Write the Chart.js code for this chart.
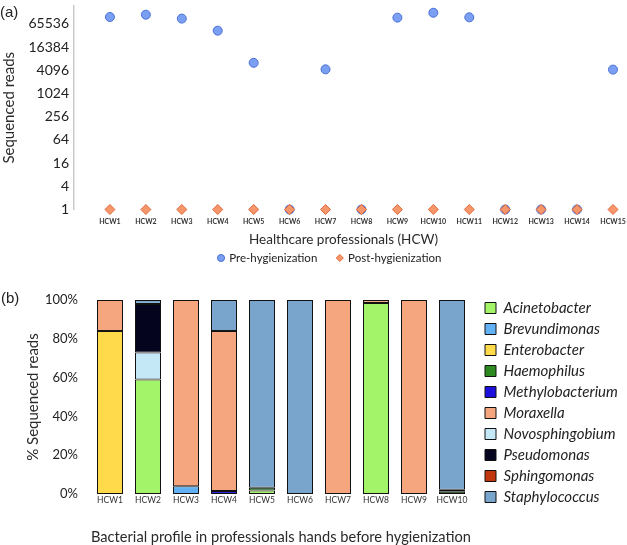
<!DOCTYPE html>
<html><head><meta charset="utf-8">
<script src="https://cdn.jsdelivr.net/npm/chart.js@4.4.1/dist/chart.umd.min.js"></script>
<style>
html,body{margin:0;padding:0;background:#fff;overflow:hidden;width:627px;height:545px;}
#wa{position:absolute;left:0;top:0;width:627px;height:270px;}
#wb{position:absolute;left:0;top:270px;width:627px;height:275px;}
.lab{position:absolute;font:15px "Liberation Sans",Arial,sans-serif;color:#222;}
</style></head><body>
<div id="wa"><canvas id="ca"></canvas></div>
<div id="wb"><canvas id="cb"></canvas></div>
<div class="lab" style="left:0;top:3px">(a)</div>
<div class="lab" style="left:1px;top:289px">(b)</div>
<script>
// ---- Panel (a) data ----
const hcwLabels = ['HCW1','HCW2','HCW3','HCW4','HCW5','HCW6','HCW7','HCW8','HCW9','HCW10','HCW11','HCW12','HCW13','HCW14','HCW15'];
const preHygienization = [98700, 113000, 89400, 43500, 6380, 1, 4320, 1, 94800, 127000, 96500, 1, 1, 1, 4250];
const postHygienization = [1, 1, 1, 1, 1, 1, 1, 1, 1, 1, 1, 1, 1, 1, 1];
const yTicksA = [1, 4, 16, 64, 256, 1024, 4096, 16384, 65536];

// ---- Panel (b) data ----
const profileLabels = ['HCW1','HCW2','HCW3','HCW4','HCW5','HCW6','HCW7','HCW8','HCW9','HCW10'];
const genera = ['Acinetobacter','Brevundimonas','Enterobacter','Haemophilus','Methylobacterium','Moraxella','Novosphingobium','Pseudomonas','Sphingomonas','Staphylococcus'];
const acinetobacter    = [0, 59, 0, 0, 1.8, 0, 0, 98.5, 0, 0];
const brevundimonas    = [0, 0, 4, 0, 0, 0, 0, 0, 0, 0];
const enterobacter     = [84, 0, 0, 0, 0, 0, 0, 0, 0, 0];
const haemophilus      = [0, 0, 0, 0, 1.4, 0, 0, 0, 0, 1.2];
const methylobacterium = [0, 0, 0, 1.5, 0, 0, 0, 0, 0, 0];
const moraxella        = [16, 0, 96, 82.5, 0, 0, 100, 1.5, 100, 0];
const novosphingobium  = [0, 14, 0, 0, 0, 0, 0, 0, 0, 0];
const pseudomonas      = [0, 25, 0, 0, 0, 0, 0, 0, 0, 0];
const sphingomonas     = [0, 0, 0, 0, 0, 0, 0, 0, 0, 1.0];
const staphylococcus   = [0, 2, 0, 16, 96.8, 100, 0, 0, 0, 97.8];
const yTicksB = [0, 20, 40, 60, 80, 100];

const seriesB = [acinetobacter, brevundimonas, enterobacter, haemophilus, methylobacterium, moraxella, novosphingobium, pseudomonas, sphingomonas, staphylococcus];
const colorsB = ['#a4f46a','#62b1f5','#ffda4a','#2d8a21','#1c10dc','#f5a67f','#c5e8f7','#05041f','#c2360d','#79a5cc'];

Chart.defaults.font.family = 'Lato, "Open Sans", sans-serif';
Chart.defaults.color = '#222';

function legendFix(o) {
  return {
    id: 'legendFix',
    afterInit(chart) {
      const lg = chart.legend;
      const f = lg.fit;
      lg.fit = function () {
        f.call(this);
        if (o.width != null) this.width = o.width;
        if (o.height != null) this.height = o.height;
      };
    },
    afterLayout(chart) {
      const lg = chart.legend;
      lg.left += o.dx || 0; lg.right += o.dx || 0;
      lg.top += o.dTop || 0; lg.bottom += o.dBottom || 0;
    }
  };
}
function noScalePad(s) { s.paddingTop = 0; s.paddingBottom = 0; s.paddingLeft = 0; s.paddingRight = 0; }

new Chart(document.getElementById('ca'), {
  type: 'scatter',
  data: {
    datasets: [
      { label: 'Post-hygienization', data: postHygienization.map((v, i) => ({x: i + 1, y: v})), clip: false,
        pointStyle: 'rectRot', pointRadius: 5, backgroundColor: '#f5966b', borderColor: '#e2683a', borderWidth: 1 },
      { label: 'Pre-hygienization', data: preHygienization.map((v, i) => ({x: i + 1, y: v})), clip: false,
        pointStyle: 'circle', pointRadius: 4.5, backgroundColor: '#7b9ff2', borderColor: '#4a70d6', borderWidth: 1 }
    ]
  },
  options: {
    responsive: true, maintainAspectRatio: false, animation: false,
    layout: {padding: {top: 2, right: 14, left: 0, bottom: 0}},
    plugins: {
      legend: {position: 'bottom', reverse: true,
        labels: {usePointStyle: true, boxWidth: 5, boxHeight: 5, padding: 20, font: {size: 11.5}, color: '#222'}},
      tooltip: {enabled: false}
    },
    scales: {
      x: {type: 'linear', min: 0, max: 15,
        grid: {display: false, drawTicks: false}, border: {display: false},
        afterBuildTicks: s => { s.ticks = hcwLabels.map((_, i) => ({value: i + 1})); },
        afterFit: s => { s.height = 39.5; noScalePad(s); },
        ticks: {autoSkip: false, maxRotation: 0, padding: 8.5, font: {size: 7, weight: 'bold'}, color: '#333',
          callback: v => hcwLabels[v - 1]},
        title: {display: true, text: 'Healthcare professionals (HCW)', font: {size: 13.5}, color: '#2a2a2a', padding: {top: 0, bottom: 1}}
      },
      y: {type: 'logarithmic', min: 1, max: 190000,
        grid: {display: false, drawTicks: false}, border: {display: true, color: '#c9c9c9', width: 1.5},
        afterBuildTicks: s => { s.ticks = yTicksA.map(v => ({value: v})); },
        afterFit: s => { s.width = 74; noScalePad(s); },
        ticks: {padding: 5, font: {size: 14}, color: '#222', callback: v => String(v)},
        title: {display: true, text: 'Sequenced reads', font: {size: 15}, color: '#2a2a2a', padding: {top: 0, bottom: 0}}
      }
    }
  },
  plugins: [legendFix({height: 21, dx: 23.5, dTop: -16.75})]
});

new Chart(document.getElementById('cb'), {
  type: 'bar',
  data: {
    labels: profileLabels,
    datasets: genera.map((g, k) => ({
      label: g, data: seriesB[k], backgroundColor: colorsB[k],
      borderColor: '#111', borderWidth: 1, borderSkipped: false,
      barPercentage: 0.684, categoryPercentage: 1
    }))
  },
  options: {
    responsive: true, maintainAspectRatio: false, animation: false,
    layout: {padding: {top: 30, right: 0, left: 0, bottom: 0}},
    plugins: {
      legend: {position: 'right', align: 'center',
        labels: {boxWidth: 11, boxHeight: 11, padding: 6, font: {size: 15, style: 'italic'}, color: '#222'}},
      tooltip: {enabled: false}
    },
    scales: {
      x: {stacked: true, grid: {display: false, drawTicks: false}, border: {display: false},
        afterFit: s => { s.height = 51; },
        ticks: {padding: 1, font: {size: 8.5}, color: '#333', maxRotation: 0, autoSkip: false},
        title: {display: true, text: 'Bacterial profile in professionals hands before hygienization',
          font: {size: 15, lineHeight: 1}, color: '#2a2a2a', padding: {top: 0, bottom: 0}}
      },
      y: {stacked: true, min: 0, max: 100,
        grid: {display: false, drawTicks: false}, border: {display: false},
        afterBuildTicks: s => { s.ticks = yTicksB.map(v => ({value: v})); },
        afterFit: s => { s.width = 91; },
        ticks: {padding: 13, font: {size: 13}, color: '#222', callback: v => v + '%'},
        title: {display: true, text: '% Sequenced reads', font: {size: 15}, color: '#2a2a2a', padding: {top: 24, bottom: 0}}
      }
    }
  },
  plugins: [legendFix({width: 156, dx: 8, dTop: -20, dBottom: -20})]
});
</script>
</body></html>
